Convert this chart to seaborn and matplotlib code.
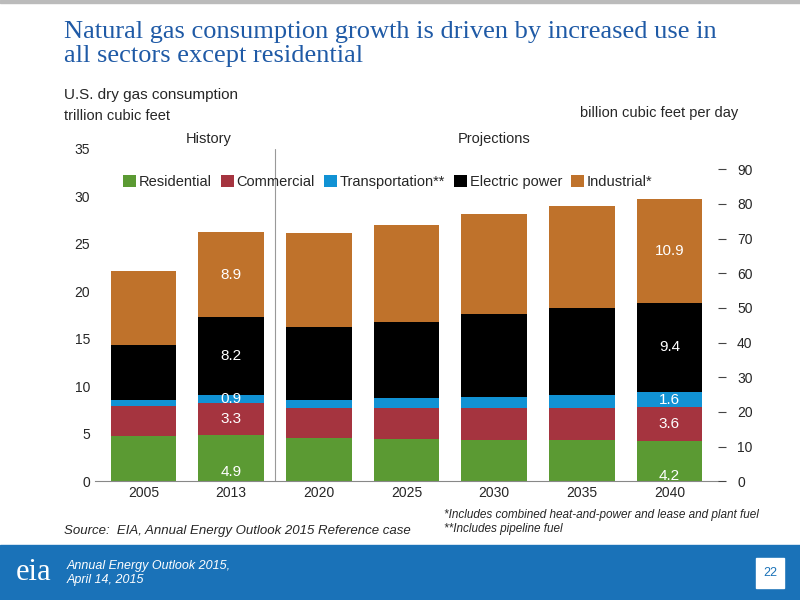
import matplotlib
matplotlib.use("Agg")
import matplotlib.pyplot as plt
import seaborn as sns
import numpy as np
import pandas as pd
from matplotlib.patches import Rectangle

years = ["2005", "2013", "2020", "2025", "2030", "2035", "2040"]
residential = [4.8, 4.9, 4.5, 4.4, 4.3, 4.3, 4.2]
commercial = [3.1, 3.3, 3.2, 3.3, 3.4, 3.4, 3.6]
transportation = [0.6, 0.9, 0.9, 1.05, 1.15, 1.35, 1.6]
electric = [5.8, 8.2, 7.6, 8.0, 8.75, 9.2, 9.4]
industrial = [7.8, 8.9, 9.9, 10.2, 10.5, 10.7, 10.9]

series = [("Residential", residential, "#5b9a33"),
          ("Commercial", commercial, "#a5343f"),
          ("Transportation", transportation, "#1192d4"),
          ("Electric power", electric, "#000000"),
          ("Industrial*", industrial, "#bf722b")]

sns.set_style("white")
plt.rcParams['font.family'] = ['Liberation Sans', 'DejaVu Sans']
fig = plt.figure(figsize=(8, 6), dpi=100)
ax = fig.add_axes([0.119, 0.198, 0.778, 0.554])

bottom = np.zeros(len(years))
for name, vals, col in series:
    df = pd.DataFrame({"year": years, "v": vals})
    sns.barplot(data=df, x="year", y="v", color=col, bottom=bottom, width=0.75,
                ax=ax, label=name, saturation=1, linewidth=0)
    bottom = bottom + np.array(vals)

ax.set_ylim(0, 35)
ax.set_xlim(-0.55, 6.55)
ax.set_yticks(range(0, 36, 5))
ax.set_xlabel(""); ax.set_ylabel("")
ax.tick_params(labelsize=10, length=0)
for s in ["top", "right", "left"]:
    ax.spines[s].set_visible(False)
ax.spines["bottom"].set_color("#888888")
ax.axvline(1.5, color="#999999", lw=0.8)

ax2 = ax.twinx()
ax2.set_ylim(0, 35 * 1000 / 365)
ax2.set_yticks(range(0, 91, 10))
ax2.tick_params(labelsize=10, direction="out", length=6, color="#444444")
ax2.tick_params(axis="y", pad=8)
for s in ["top", "right", "left", "bottom"]:
    ax2.spines[s].set_visible(False)
for t in ax2.get_yticklabels():
    pass
# ticks on left side of right labels
ax2.yaxis.set_ticks_position("right")

h, l = ax.get_legend_handles_labels()
l = [x if x != "Transportation" else "Transportation**" for x in l]
ax.legend(h, l, loc="upper center", ncol=5, frameon=False, fontsize=10.5,
          handlelength=0.9, handleheight=0.9, handletextpad=0.2, columnspacing=0.6,
          bbox_to_anchor=(0.47, 0.96))

# data labels
labels = {1: [(residential, 0, "4.9", "white"), (commercial, 1, "3.3", "white"),
              (transportation, 2, "0.9", "white"), (electric, 3, "8.2", "white"),
              (industrial, 4, "8.9", "white")],
          6: [(residential, 0, "4.2", "white"), (commercial, 1, "3.6", "white"),
              (transportation, 2, "1.6", "white"), (electric, 3, "9.4", "white"),
              (industrial, 4, "10.9", "white")]}
stack = [residential, commercial, transportation, electric, industrial]
for xi, lst in labels.items():
    for vals, k, txt, c in lst:
        base = sum(s[xi] for s in stack[:k])
        ax.text(xi, base + vals[xi] / 2 - (1.5 if k == 0 else 0), txt, ha="center",
                va="center", color=c, fontsize=11)

ax.text(0.75, 35.6, "History", ha="center", fontsize=10.5)
ax.text(4.0, 35.6, "Projections", ha="center", fontsize=10.5)

fig.text(0.08, 0.965, "Natural gas consumption growth is driven by increased use in\nall sectors except residential",
         family="Liberation Serif", color="#1f5aa6", fontsize=19, va="top", linespacing=1.1)
fig.text(0.08, 0.835, "U.S. dry gas consumption", fontsize=11)
fig.text(0.08, 0.800, "trillion cubic feet", fontsize=10.5)
fig.text(0.923, 0.805, "billion cubic feet per day", fontsize=10.5, ha="right")
fig.text(0.08, 0.110, "Source:  EIA, Annual Energy Outlook 2015 Reference case", fontsize=9.5, style="italic")
fig.text(0.555, 0.130, "*Includes combined heat-and-power and lease and plant fuel\n**Includes pipeline fuel",
         fontsize=8.5, style="italic", va="center")

fig.add_artist(Rectangle((0, 0), 1, 0.092, transform=fig.transFigure, color="#1a72b8", zorder=0))
fig.add_artist(Rectangle((0, 0.995), 1, 0.005, transform=fig.transFigure, color="#bbbbbb"))
fig.text(0.02, 0.045, "eia", fontsize=22, color="white", va="center", family="Liberation Serif")
fig.text(0.083, 0.045, "Annual Energy Outlook 2015,\nApril 14, 2015", fontsize=9, color="white",
         style="italic", va="center")
fig.add_artist(Rectangle((0.945, 0.02), 0.035, 0.05, transform=fig.transFigure, color="white"))
fig.text(0.9625, 0.045, "22", fontsize=9, color="#1a72b8", ha="center", va="center")

fig.savefig("out.png", dpi=100)
